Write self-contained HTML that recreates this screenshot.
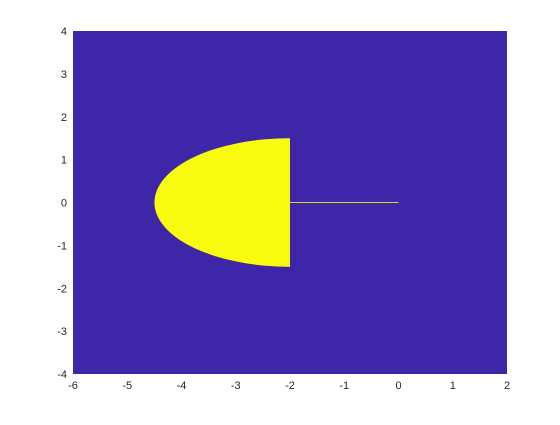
<!DOCTYPE html>
<html><head><meta charset="utf-8"><style>
body{margin:0;background:#fff;}
svg text{font-family:"Liberation Sans",Arial,sans-serif;font-size:11px;fill:#262626;}
</style></head><body>
<svg width="560" height="420">
<g id="plot"></g>
</svg>
<script>
const xTicks=[-6,-5,-4,-3,-2,-1,0,1,2];
const yTicks=[-4,-3,-2,-1,0,1,2,3,4];
const ellipseCenterX=[-2];
const ellipseRadiusX=[2.5];
const ellipseRadiusY=[1.5];
const lineX=[-2,0];
const lineY=[0,0];
const AL=73,AR=507,AT=31,AB=374;
const sx=v=>AL+(v-(-6))/(8)*(AR-AL);
const sy=v=>AB-(v-(-4))/(8)*(AB-AT);
const NS='http://www.w3.org/2000/svg';
const plotG=document.getElementById('plot');
function mk(tag,attrs){const e=document.createElementNS(NS,tag);for(const k in attrs)e.setAttribute(k,attrs[k]);plotG.appendChild(e);return e;}
const bg=mk('rect',{x:AL,y:AT,width:AR-AL,height:AB-AT,fill:'#3e26a8'});


const ecx=sx(ellipseCenterX[0]);
const erx=sx(ellipseCenterX[0])-sx(ellipseCenterX[0]-ellipseRadiusX[0]);
const ery=sy(0)-sy(ellipseRadiusY[0]);
const shapeTop=sy(ellipseRadiusY[0]),shapeBot=sy(-ellipseRadiusY[0]);
const sh=mk('path',{d:`M${ecx},${shapeTop} A${erx},${ery} 0 0 0 ${ecx},${shapeBot} Z`,fill:'#f9fb0e'});


const ln=mk('line',{x1:sx(lineX[0]),y1:sy(lineY[0]),x2:sx(lineX[1]),y2:sy(lineY[1]),stroke:'#e0d020','stroke-width':1});


xTicks.forEach(v=>{const x=sx(v);
 const t=mk('text',{x:x,y:AB+15,'text-anchor':'middle'});t.textContent=v;
 
 
});
yTicks.forEach(v=>{const y=sy(v);
 const t=mk('text',{x:AL-6,y:y+4,'text-anchor':'end'});t.textContent=v;
 
 
});
</script>
</body></html>
